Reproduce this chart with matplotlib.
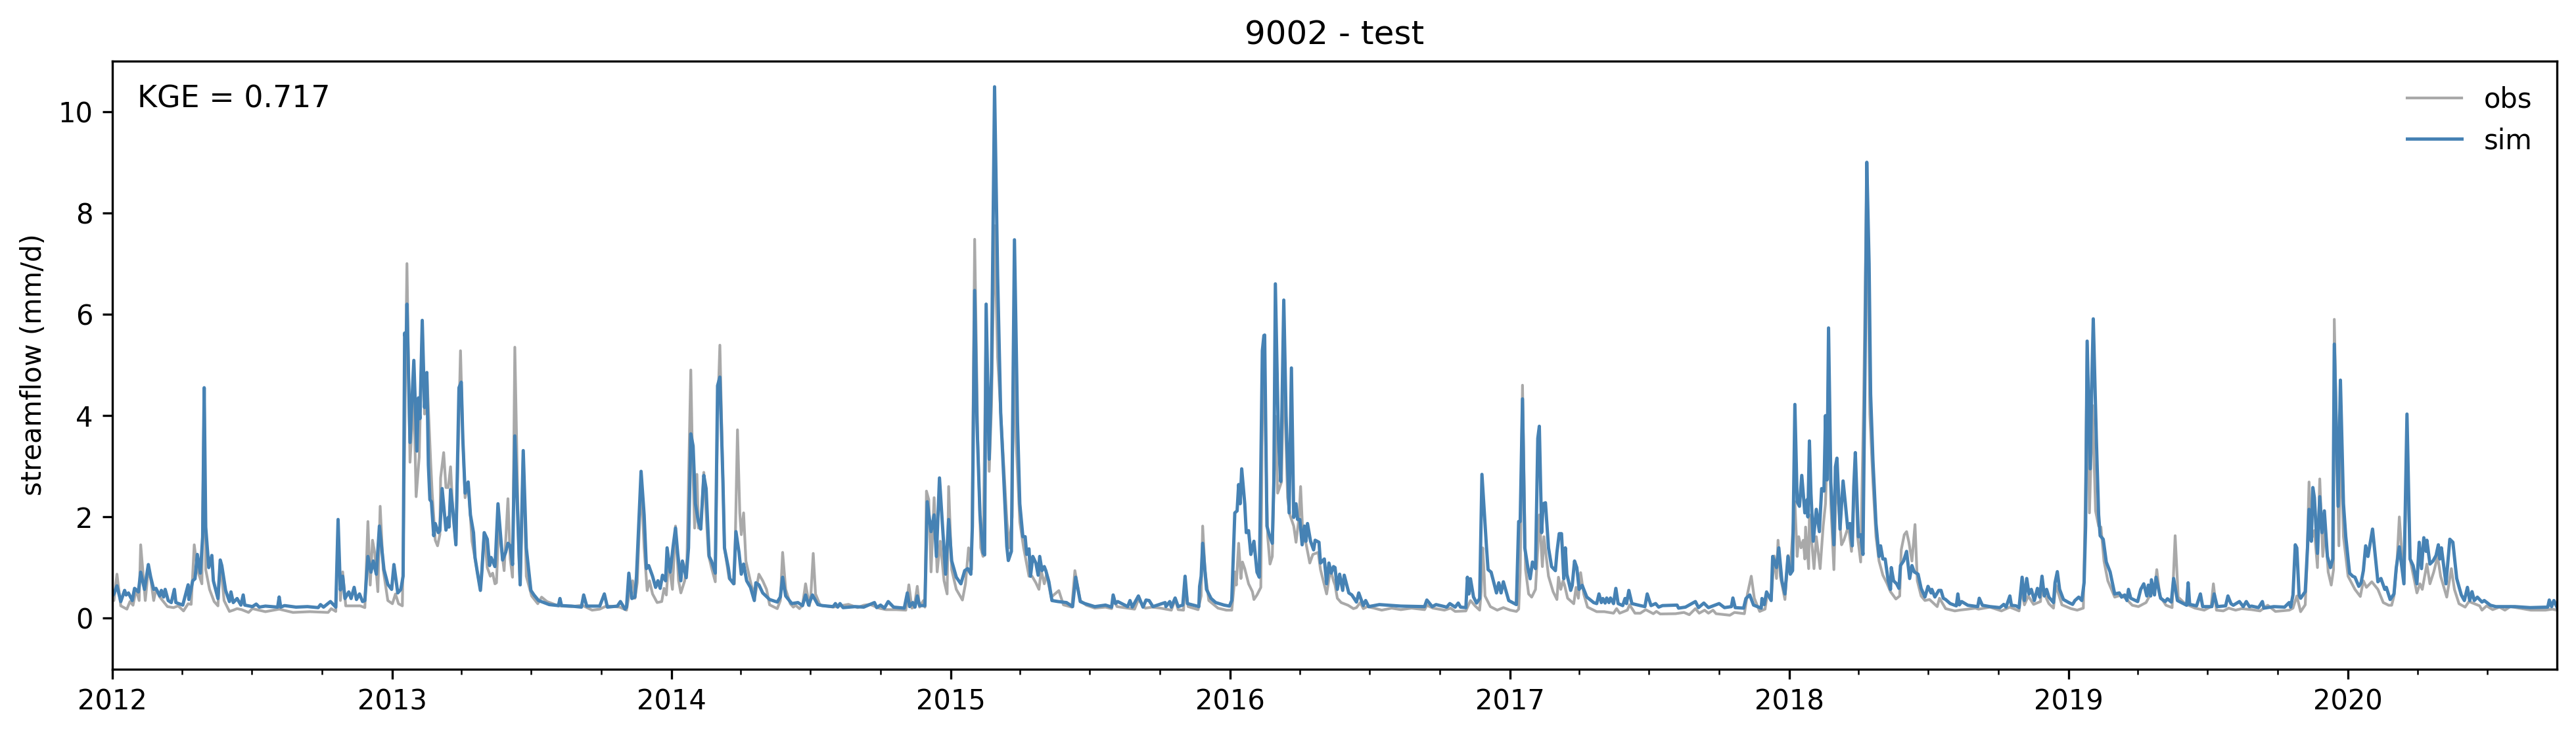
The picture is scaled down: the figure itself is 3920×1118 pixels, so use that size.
import matplotlib
matplotlib.use("Agg")
import matplotlib.pyplot as plt
import matplotlib.dates as mdates
import pandas as pd

START = pd.Timestamp("2012-01-01")
END = pd.Timestamp("2020-09-30")
TITLE = "9002 - test"
KGE_LABEL = "KGE = 0.717"
YLABEL = "streamflow (mm/d)"
YTICKS = [0, 2, 4, 6, 8, 10]

# (day since 2012-01-01, streamflow in mm/d)
sim_a = [(0,.44),(2,.48),(6,.64),(11,.33),(16,.55),(18,.46),(21,.50),(26,.35),(29,.59),(34,.52),(37,.91),(42,.57),(47,1.06),(50,.82),(54,.57),(57,.59),(62,.44),(64,.55),(67,.42),(69,.57),(73,.35),(77,.31),(81,.57),(83,.31),(92,.26),(99,.66),(100,.37),(105,.74),(108,.78),(111,1.26),(115,.89),(118,1.6),(120,4.55),(122,1.8),(126,1.0),(130,1.24),(132,.74),(138,.39),(141,1.15),(143,1.04),(148,.55),(153,.33),(155,.52),(158,.31),(163,.39),(168,.26),(171,.46),(173,.26),(183,.23),(188,.28),(192,.22),(200,.24),(216,.22),(218,.42),(220,.22),(225,.25),(240,.22),(255,.23),(269,.21),(272,.27),(276,.22),(285,.33),(292,.22),(295,1.95),(298,.56),(301,.83),(304,.39),(309,.52),(312,.39),(316,.61),(319,.37),(323,.48),(327,.33),(330,.35),(332,.78),(334,1.22),(338,.91),(341,1.13),(345,.87),(349,1.82),(352,1.39),(355,.96),(360,.67),(365,.57),(368,1.06),(373,.50),(377,.57),(380,.83),(382,5.63),(384,5.4),(385,6.2),(389,3.47),(394,5.09),(398,3.3)]
sim_b = [(400,4.35),(402,3.94),(405,5.88),(408,4.16),(411,4.85),(413,3.03),(415,2.34),(417,2.30),(420,1.63),(422,1.87),(426,1.69),(428,1.73),(431,2.56),(436,1.74),(439,1.99),(440,1.80),(442,2.54),(445,2.13),(449,1.45),(453,4.55),(456,4.66),(458,3.55),(461,2.47),(465,2.69),(468,2.04),(472,1.69),(474,1.20),(477,.91),(481,.55),(483,.93),(486,1.69),(490,1.56),(493,1.04),(495,1.20),(500,1.02),(501,1.28),(504,2.26),(510,1.15),(514,1.30),(517,1.48),(520,1.43),(523,1.06),(526,3.60),(533,.66),(537,3.31),(541,1.39),(547,.55),(551,.46),(557,.35),(571,.27),(583,.25),(585,.39),(587,.25),(600,.24),(613,.22),(616,.46),(620,.24),(637,.24),(643,.48),(647,.22),(660,.24),(664,.33),(670,.18),(672,.22),(675,.89),(679,.39),(683,.42),(685,.83),(691,2.90),(695,2.04),(698,.98),(701,1.04),(706,.83),(710,.61),(713,.74),(716,.59),(719,.85),(723,.74),(725,1.39),(729,.91),(733,1.43),(736,1.78),(739,1.26),(743,.74),(745,1.13),(750,.80),(753,1.39),(756,3.64),(759,3.40),(762,2.26),(766,1.90),(769,1.76),(773,2.82),(776,2.56),(780,1.22),(783,1.13),(788,.89),(791,4.59),(794,4.76),(798,2.7)]
sim_c = [(800,1.39),(805,1.0),(807,.78),(812,.68),(815,1.71),(819,1.30),(822,.87),(825,1.07),(829,.74),(834,.61),(839,.35),(841,.70),(845,.66),(850,.50),(859,.37),(869,.32),(873,.42),(876,.81),(880,.44),(888,.29),(896,.31),(902,.25),(906,.46),(910,.26),(915,.46),(922,.27),(928,.25),(942,.23),(945,.29),(948,.22),(951,.29),(955,.21),(971,.23),(982,.22),(996,.31),(999,.21),(1004,.26),(1009,.20),(1014,.33),(1021,.22),(1035,.20),(1039,.50),(1042,.23),(1046,.31),(1049,.22),(1052,.44),(1055,.25),(1062,.25),(1065,2.30),(1070,1.71),(1074,2.04),(1077,1.22),(1081,2.77),(1085,1.82),(1089,.87),(1093,1.95),(1097,1.13),(1103,.81),(1109,.68),(1114,.94),(1118,.98),(1122,.87),(1124,1.82),(1127,6.47),(1130,3.87),(1134,2.03),(1138,1.29),(1140,1.25),(1142,6.2),(1146,3.14),(1149,4.85),(1153,10.49),(1157,6.76),(1161,4.06),(1165,2.77),(1169,1.42),(1171,1.14),(1175,1.32),(1179,7.47),(1183,3.87),(1186,2.26),(1190,1.61),(1193,1.61),(1195,1.26)]
sim_d = [(1198,1.37),(1200,.83),(1203,1.22),(1207,1.09),(1210,.85),(1212,1.22),(1215,.94),(1218,1.02),(1220,.94),(1224,.72),(1228,.35),(1236,.33),(1247,.31),(1255,.23),(1259,.81),(1265,.33),(1271,.29),(1284,.23),(1298,.26),(1306,.22),(1308,.46),(1311,.29),(1314,.33),(1327,.23),(1330,.35),(1333,.22),(1341,.44),(1347,.22),(1351,.36),(1355,.35),(1360,.23),(1376,.31),(1377,.23),(1382,.33),(1384,.22),(1389,.40),(1393,.23),(1399,.26),(1402,.83),(1405,.29),(1420,.23),(1421,.63),(1423,.83),(1425,1.48),(1430,.57),(1436,.39),(1442,.31),(1453,.26),(1460,.24),(1463,.35),(1467,2.08),(1470,2.12),(1472,2.64),(1474,2.26),(1476,2.95),(1480,2.26),(1482,1.69),(1485,1.73),(1488,1.26),(1492,1.52),(1496,.91),(1499,.81),(1500,1.82),(1503,5.28),(1505,5.58),(1506,5.59),(1509,1.82),(1512,1.65),(1516,1.48),(1518,2.69),(1520,6.6),(1524,3.55),(1527,2.70),(1531,6.28),(1534,4.0),(1538,2.08),(1541,4.94),(1544,1.99),(1547,2.26),(1549,1.95),(1552,1.95),(1555,1.45),(1558,1.82),(1560,1.52),(1562,1.87),(1566,1.52),(1570,1.35),(1572,1.54),(1577,1.50),(1579,1.09),(1584,1.17),(1587,.68),(1590,1.09),(1593,.89),(1596,1.02)]
sim_e = [(1598,1.0),(1601,.57),(1604,.87),(1608,.55),(1610,.85),(1616,.50),(1620,.46),(1626,.32),(1629,.50),(1635,.25),(1638,.35),(1642,.23),(1656,.27),(1684,.24),(1715,.23),(1718,.36),(1725,.23),(1730,.27),(1744,.22),(1748,.29),(1755,.22),(1759,.30),(1762,.22),(1769,.21),(1771,.81),(1773,.48),(1775,.78),(1779,.42),(1783,.30),(1787,.39),(1790,2.84),(1793,2.12),(1796,1.39),(1798,.96),(1802,.91),(1809,.50),(1812,.70),(1815,.50),(1818,.72),(1825,.35),(1835,.27),(1838,1.91),(1840,1.91),(1843,4.33),(1846,1.39),(1850,1.0),(1853,.78),(1856,1.11),(1860,.98),(1863,3.55),(1865,3.79),(1868,1.69),(1870,2.26),(1873,2.28),(1877,1.39),(1881,1.02),(1886,.94),(1888,1.30),(1891,1.67),(1894,1.67),(1897,.78),(1899,1.39),(1901,.87),(1906,.55),(1908,.65),(1911,1.13),(1914,1.0),(1917,.57),(1921,.65),(1927,.42),(1936,.31),(1940,.29),(1943,.48),(1946,.31),(1948,.39),(1951,.30),(1953,.40),(1956,.31),(1958,.40),(1962,.29),(1965,.59),(1968,.29),(1974,.25),(1977,.39),(1979,.29),(1982,.55),(1986,.29),(1997,.25)]
sim_f = [(2003,.23),(2006,.48),(2011,.25),(2017,.29),(2021,.22),(2026,.25),(2045,.26),(2047,.20),(2056,.22),(2069,.33),(2073,.21),(2080,.30),(2086,.21),(2100,.29),(2107,.21),(2116,.23),(2118,.40),(2121,.21),(2132,.20),(2135,.39),(2140,.46),(2145,.26),(2155,.20),(2156,.39),(2159,.27),(2162,.52),(2168,.35),(2170,1.22),(2175,1.0),(2178,1.39),(2182,.74),(2186,.48),(2190,1.22),(2193,.87),(2196,.94),(2199,4.22),(2202,2.30),(2205,2.21),(2208,2.82),(2212,2.08),(2215,2.34),(2216,2.0),(2218,3.50),(2220,2.47),(2223,1.52),(2227,2.15),(2231,1.71),(2234,2.56),(2237,2.51),(2239,4.0),(2241,2.73),(2243,5.73),(2246,2.69),(2250,1.45),(2252,2.99),(2254,3.16),(2258,1.76),(2262,2.71),(2265,2.26),(2268,1.78),(2271,1.87),(2274,1.43),(2276,2.60),(2278,3.27),(2282,1.61),(2285,1.65),(2288,1.26),(2291,5.5),(2293,9.0),(2296,7.0),(2298,4.42),(2301,3.12),(2305,1.87),(2309,1.22),(2311,1.43),(2314,1.17),(2317,1.17),(2321,.74),(2324,.57),(2325,1.0),(2328,.74),(2332,.68),(2335,.59),(2337,1.04),(2341,1.13),(2345,1.32),(2349,.785),(2352,1.04),(2355,.915),(2360,.87),(2364,.59),(2369,.42),(2373,.63),(2377,.50),(2378,.57),(2382,.42),(2387,.55),(2390,.55),(2393,.395),(2396,.37)]
sim_g = [(2402,.29),(2410,.245),(2412,.48),(2414,.265),(2417,.33),(2425,.257),(2438,.23),(2440,.395),(2444,.257),(2454,.23),(2467,.21),(2472,.274),(2475,.22),(2480,.44),(2482,.257),(2488,.245),(2492,.21),(2496,.81),(2499,.35),(2502,.785),(2505,.48),(2508,.57),(2512,.35),(2516,.59),(2519,.417),(2522,.83),(2525,.44),(2528,.57),(2531,.417),(2537,.31),(2539,.70),(2542,.92),(2545,.57),(2550,.37),(2557,.31),(2562,.274),(2565,.35),(2570,.417),(2574,.35),(2577,.70),(2579,1.82),(2581,5.47),(2585,2.95),(2587,4.6),(2589,5.91),(2593,3.55),(2596,2.04),(2598,1.63),(2602,1.56),(2606,1.11),(2611,.915),(2617,.48),(2623,.50),(2626,.417),(2630,.46),(2633,.35),(2635,.57),(2638,.395),(2647,.33),(2651,.57),(2655,.68),(2659,.44),(2661,.655),(2664,.44),(2665,.76),(2669,.46),(2671,.81),(2677,.395),(2683,.33),(2686,.385),(2691,.32),(2694,.785),(2699,.35),(2707,.287),(2711,.257),(2713,.70),(2715,.274),(2724,.245),(2729,.48),(2732,.23),(2744,.23),(2747,.48),(2751,.23),(2762,.245),(2765,.44),(2769,.287),(2772,.257),(2780,.33),(2785,.23),(2789,.33),(2793,.23)]
sim_h = [(2796,.24),(2805,.21),(2810,.33),(2812,.20),(2825,.23),(2839,.22),(2845,.31),(2847,.22),(2850,.46),(2853,1.45),(2855,1.39),(2858,.46),(2860,.395),(2866,.525),(2869,1.39),(2871,2.15),(2874,1.52),(2876,2.58),(2878,2.38),(2882,1.28),(2885,2.40),(2888,1.69),(2891,2.12),(2895,1.22),(2899,1.0),(2902,1.17),(2904,5.41),(2909,2.21),(2912,4.70),(2916,2.26),(2919,1.61),(2924,.89),(2928,.83),(2931,.81),(2936,.63),(2939,.70),(2942,.94),(2945,1.43),(2948,1.22),(2954,1.76),(2961,.72),(2965,.785),(2970,.57),(2972,.61),(2977,.37),(2982,.48),(2985,1.0),(2989,1.41),(2995,.68),(2999,4.03),(3003,1.17),(3007,1.04),(3012,.68),(3015,1.50),(3018,.98),(3021,1.59),(3024,1.32),(3025,1.54),(3029,1.07),(3033,1.13),(3037,1.24),(3040,1.45),(3042,1.17),(3044,1.39),(3050,.68),(3055,1.56),(3059,1.50),(3064,.785),(3070,.46),(3074,.35),(3078,.61),(3081,.35),(3084,.525),(3087,.35),(3091,.417),(3097,.32),(3100,.35),(3108,.257),(3115,.23),(3140,.23),(3160,.21),(3183,.22),(3185,.36),(3188,.23),(3191,.35),(3195,.22)]

obs_a = [(0,.35),(2,.35),(6,.87),(11,.245),(19,.18),(23,.33),(27,.257),(31,.57),(35,.35),(37,1.45),(43,.35),(47,.96),(50,.785),(54,.35),(57,.57),(62,.417),(72,.23),(80,.21),(86,.245),(93,.145),(99,.287),(103,.274),(107,1.45),(110,1.09),(113,.87),(117,.68),(120,4.5),(122,.96),(127,.57),(133,.33),(138,.245),(141,1.13),(146,.35),(153,.135),(158,.16),(163,.19),(169,.17),(178,.115),(183,.19),(200,.13),(218,.18),(236,.115),(258,.13),(282,.115),(286,.19),(292,.135),(295,1.82),(298,.35),(301,.915),(305,.245),(315,.245),(324,.245),(330,.21),(334,1.91),(337,.655),(340,1.54),(343,1.28),(347,.525),(350,2.21),(354,.96),(360,.35),(366,.287),(370,.48),(374,.287),(379,.245),(381,2.26),(385,7.0),(389,3.08),(394,4.42),(397,2.40)]
obs_b = [(401,3.18),(405,5.7),(408,4.03),(411,4.85),(416,3.08),(418,2.47),(422,1.54),(425,1.43),(428,1.65),(429,2.77),(433,3.27),(436,2.58),(439,2.58),(442,2.99),(445,2.12),(449,1.45),(455,5.28),(458,3.55),(461,2.38),(465,2.69),(470,1.52),(474,1.17),(481,.57),(486,1.69),(490,1.0),(494,.83),(497,.89),(500,.68),(502,.70),(505,1.82),(508,1.45),(512,.94),(517,2.36),(520,1.17),(523,.81),(526,5.35),(531,1.39),(533,.655),(537,3.25),(541,.83),(548,.44),(556,.287),(561,.417),(568,.33),(583,.245),(600,.23),(614,.257),(627,.16),(637,.18),(646,.245),(663,.22),(672,.16),(676,.525),(680,.74),(683,.395),(686,.70),(691,2.69),(695,1.39),(699,.546),(702,.74),(706,.48),(712,.31),(718,.33),(721,.59),(724,.46),(727,1.13),(732,.57),(736,1.82),(740,.74),(743,.50),(748,.74),(751,1.17),(756,4.9),(758,3.3),(761,1.78),(764,2.84),(766,1.78),(769,1.78),(773,2.88),(779,1.26),(783,1.0),(788,.72),(791,3.99),(794,5.39),(798,2.69)]
obs_c = [(800,1.39),(806,.785),(813,.68),(817,3.72),(820,2.08),(822,1.65),(825,2.08),(828,1.13),(835,.655),(840,.44),(845,.87),(850,.74),(855,.57),(859,.265),(869,.19),(873,.35),(876,1.30),(880,.57),(886,.287),(890,.22),(893,.257),(898,.19),(902,.257),(906,.68),(911,.245),(913,.48),(916,1.28),(919,.48),(925,.257),(942,.22),(962,.274),(974,.21),(982,.257),(990,.274),(1002,.20),(1011,.17),(1025,.17),(1037,.16),(1041,.66),(1045,.20),(1048,.22),(1052,.63),(1055,.22),(1060,.35),(1062,.22),(1064,2.51),(1067,2.34),(1070,.915),(1074,2.38),(1078,.915),(1082,1.52),(1087,.74),(1091,.48),(1093,2.60),(1097,.96),(1103,.57),(1111,.36),(1115,.68),(1119,1.39),(1123,.96),(1127,7.48),(1131,3.55),(1135,1.39),(1138,1.22),(1142,5.9),(1146,2.9),(1149,4.2),(1153,7.75),(1157,5.15),(1163,3.55),(1169,1.95),(1172,1.39),(1176,2.0),(1179,6.5),(1181,3.55),(1186,1.9),(1191,1.39),(1198,.83)]
obs_d = [(1202,.83),(1207,.70),(1211,.57),(1214,.94),(1218,.68),(1221,.87),(1227,.417),(1237,.546),(1243,.265),(1254,.22),(1258,.94),(1265,.35),(1273,.257),(1284,.20),(1298,.22),(1306,.19),(1308,.395),(1313,.23),(1327,.20),(1336,.18),(1341,.37),(1350,.20),(1359,.22),(1370,.20),(1384,.16),(1389,.37),(1393,.17),(1400,.16),(1402,.70),(1406,.23),(1419,.17),(1423,.44),(1425,1.82),(1428,.96),(1433,.35),(1445,.20),(1456,.16),(1463,.16),(1466,.63),(1467,.915),(1469,.655),(1472,1.48),(1475,.785),(1477,1.11),(1480,.98),(1485,.68),(1490,.525),(1492,.37),(1496,.46),(1501,.61),(1503,4.0),(1505,5.0),(1510,1.61),(1513,1.07),(1516,1.22),(1520,3.99),(1523,2.47),(1528,2.69),(1531,5.0),(1536,2.38),(1539,2.04),(1544,1.82),(1547,1.5),(1551,2.0),(1553,2.60),(1556,1.61),(1560,1.48),(1565,1.09),(1569,1.26),(1576,1.30),(1579,.96),(1587,.48),(1592,.96),(1596,.74)]
obs_e = [(1598,.655),(1601,.395),(1606,.31),(1615,.257),(1622,.19),(1626,.21),(1631,.31),(1635,.19),(1640,.23),(1649,.20),(1659,.16),(1672,.20),(1684,.17),(1698,.20),(1715,.17),(1718,.257),(1726,.20),(1741,.16),(1749,.20),(1755,.135),(1769,.145),(1775,.35),(1781,.245),(1787,.16),(1789,.525),(1791,1.39),(1793,.83),(1794,.44),(1801,.23),(1810,.16),(1818,.21),(1827,.16),(1835,.135),(1838,.18),(1840,.915),(1843,4.6),(1847,.96),(1851,.48),(1855,.417),(1860,.57),(1863,1.39),(1865,2.04),(1869,1.02),(1871,1.61),(1877,.83),(1883,.525),(1888,.37),(1890,.81),(1893,.57),(1896,.74),(1898,.655),(1902,.395),(1910,.287),(1913,.61),(1916,.395),(1919,.90),(1923,.48),(1928,.22),(1940,.13),(1950,.13),(1962,.10),(1966,.19),(1970,.10),(1980,.16),(1983,.265),(1990,.10),(1997,.10)]
obs_f = [(2004,.17),(2014,.09),(2018,.135),(2023,.085),(2043,.09),(2054,.115),(2061,.07),(2069,.19),(2074,.10),(2081,.16),(2086,.10),(2092,.16),(2096,.09),(2114,.06),(2120,.115),(2133,.09),(2137,.48),(2142,.83),(2146,.395),(2153,.135),(2160,.18),(2163,.48),(2168,.37),(2172,1.23),(2175,.785),(2177,1.54),(2180,.83),(2186,.37),(2190,1.24),(2193,.96),(2198,2.12),(2199,2.30),(2202,1.22),(2204,1.61),(2207,1.39),(2210,1.54),(2212,1.17),(2213,1.80),(2217,.98),(2218,2.04),(2224,.98),(2227,1.61),(2232,.98),(2236,1.82),(2239,2.26),(2240,2.73),(2243,5.0),(2246,2.26),(2250,.96),(2253,2.69),(2256,2.26),(2260,1.45),(2263,1.54),(2269,1.82),(2273,1.32),(2278,3.12),(2281,1.61),(2285,1.11),(2289,4.38),(2293,8.9),(2297,4.03),(2301,2.69),(2305,1.61),(2309,1.13),(2314,.85),(2319,.70),(2324,.525),(2331,.38),(2336,.44),(2338,1.35),(2342,1.65),(2345,1.71),(2348,1.50),(2352,1.13),(2356,1.85),(2359,.74),(2364,.44),(2369,.35),(2375,.37),(2381,.287),(2385,.23),(2388,.395),(2396,.19)]
obs_g = [(2408,.145),(2414,.16),(2425,.18),(2435,.20),(2439,.18),(2454,.22),(2469,.145),(2480,.22),(2492,.145),(2495,.57),(2499,.265),(2504,.44),(2511,.274),(2520,.33),(2522,.74),(2525,.48),(2531,.287),(2537,.20),(2540,.655),(2548,.265),(2560,.19),(2568,.16),(2576,.20),(2579,2.69),(2581,5.40),(2584,2.08),(2588,4.2),(2592,2.12),(2596,1.82),(2599,1.80),(2603,1.13),(2608,.74),(2617,.417),(2626,.46),(2634,.35),(2640,.257),(2648,.23),(2658,.31),(2664,.48),(2669,.525),(2672,.96),(2676,.44),(2684,.257),(2692,.21),(2696,1.63),(2700,.417),(2709,.287),(2722,.20),(2734,.16),(2743,.23),(2746,.68),(2750,.16),(2759,.145),(2766,.20),(2775,.16),(2783,.19)]
obs_h = [(2796,.17),(2807,.145),(2817,.257),(2827,.135),(2845,.16),(2850,.20),(2855,.44),(2860,.13),(2866,.265),(2868,.96),(2871,2.69),(2874,1.56),(2878,1.73),(2882,1.0),(2885,2.75),(2889,1.22),(2892,1.82),(2896,.915),(2900,.655),(2903,.96),(2904,5.9),(2910,1.43),(2912,3.64),(2916,1.61),(2922,.83),(2931,.57),(2938,.43),(2942,.74),(2946,.61),(2953,.72),(2961,.57),(2968,.31),(2975,.257),(2979,.257),(2982,.44),(2986,1.13),(2989,2.0),(2995,.68),(2999,3.55),(3003,1.17),(3012,.50),(3016,.68),(3019,.57),(3025,1.07),(3029,.68),(3034,.915),(3039,1.22),(3043,.83),(3051,.417),(3057,.98),(3061,.57),(3067,.287),(3075,.22),(3080,.33),(3094,.245),(3097,.16),(3103,.245),(3111,.17),(3120,.22),(3127,.16),(3134,.23),(3161,.16),(3180,.16),(3189,.18),(3195,.16)]

sim_points = sim_a + sim_b + sim_c + sim_d + sim_e + sim_f + sim_g + sim_h
obs_points = obs_a + obs_b + obs_c + obs_d + obs_e + obs_f + obs_g + obs_h


def to_series(points):
    days, flow = zip(*points)
    return START + pd.to_timedelta(list(days), unit="D"), list(flow)


W, H, DPI = 3920, 1118, 300
fig = plt.figure(figsize=(W / DPI, H / DPI), dpi=DPI)
ax = fig.add_axes([171 / W, 1 - 1017.5 / H, 3720 / W, 924.8 / H])

obs_x, obs_y = to_series(obs_points)
sim_x, sim_y = to_series(sim_points)
ax.plot(obs_x, obs_y, color="darkgray", lw=1.0, label="obs")
ax.plot(sim_x, sim_y, color="steelblue", lw=1.2, label="sim")

ax.set_xlim(START, END)
ax.set_ylim(-1, 11)
ax.set_yticks(YTICKS)
ax.xaxis.set_major_locator(mdates.YearLocator())
ax.xaxis.set_major_formatter(mdates.DateFormatter("%Y"))
ax.xaxis.set_minor_locator(mdates.MonthLocator(bymonth=(1, 4, 7, 10)))
ax.set_ylabel(YLABEL, fontsize=10)
ax.set_title(TITLE, fontsize=12)
ax.text(0.0102, 0.9365, KGE_LABEL, transform=ax.transAxes, fontsize=11, va="center", ha="left")
ax.legend(loc="upper right", frameon=False, fontsize=10)

fig.savefig("out.png", dpi=DPI)
